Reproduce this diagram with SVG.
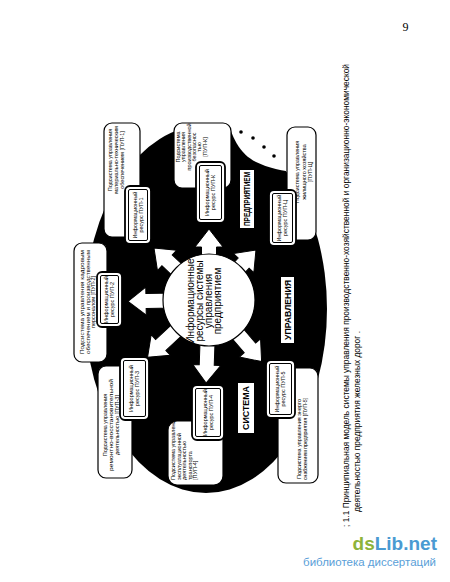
<svg xmlns="http://www.w3.org/2000/svg" width="450" height="582" viewBox="0 0 450 582">
<style>
.ob{fill:#fff;stroke:#000;stroke-width:1.2}
.ib{fill:#fff;stroke:#000;stroke-width:1.8}
.ii{fill:none;stroke:#000;stroke-width:1}
.t{font-family:"Liberation Sans",Arial,sans-serif;font-size:5.5px;fill:#000}
.lbl{font-family:"Liberation Sans",Arial,sans-serif;font-size:8.5px;font-weight:bold;fill:#000}
.arr{fill:#fff;stroke:#000;stroke-width:1}
.cap{font-family:"Liberation Sans",Arial,sans-serif;font-size:8.5px;fill:#000}
</style>
<rect width="450" height="582" fill="#fff"/>
<text x="405.5" y="31" font-family="Liberation Serif, serif" font-size="12" text-anchor="middle">9</text>

<g id="background">
<ellipse cx="206" cy="309" rx="121" ry="184" fill="#000"/>
<path d="M226 112 C231 138,240 154,256 162 C268 168,282 171,300 173 L340 173 L340 112 Z" fill="#fff"/>
<circle cx="241" cy="132" r="1.8" fill="#000"/>
<circle cx="253" cy="138" r="1.8" fill="#000"/>
<circle cx="264" cy="147" r="1.8" fill="#000"/>
<circle cx="274" cy="156" r="1.8" fill="#000"/>
</g>

<g id="connectors" transform="translate(209,300)">
<path class="arr" transform="rotate(-90)" d="M35 -7.5 H53 V-14 L71 0 L53 14 V7.5 H35 Z"/>
<path class="arr" transform="rotate(-136.6)" d="M35 -7.5 H57.7 V-14 L75.7 0 L57.7 14 V7.5 H35 Z"/>
<path class="arr" transform="rotate(179)" d="M35 -7.5 H63 V-14 L81 0 L63 14 V7.5 H35 Z"/>
<path class="arr" transform="rotate(137)" d="M35 -7.5 H66 V-14 L84 0 L66 14 V7.5 H35 Z"/>
<path class="arr" transform="rotate(92)" d="M35 -7.5 H65 V-14 L83 0 L65 14 V7.5 H35 Z"/>
<path class="arr" transform="rotate(49.5)" d="M35 -7.5 H63 V-14 L81 0 L63 14 V7.5 H35 Z"/>
<path class="arr" transform="rotate(-46.8)" d="M35 -7.5 H50.6 V-14 L68.6 0 L50.6 14 V7.5 H35 Z"/>
</g>

<g id="center">
<circle cx="209" cy="300" r="46" fill="#fff" stroke="#000" stroke-width="1.2"/>
<g transform="translate(193.5,301) rotate(-90)" font-family="Liberation Sans, Arial, sans-serif" font-size="10" text-anchor="middle">
<text x="0" y="0">Информационные</text>
<text x="0" y="9">ресурсы системы</text>
<text x="0" y="18">управления</text>
<text x="0" y="27">предприятием</text>
</g>
</g>

<g id="label-predpr">
<rect x="240" y="170" width="14" height="58" fill="#fff"/>
<text class="lbl" transform="translate(250.2,199) rotate(-90)" text-anchor="middle" textLength="54" lengthAdjust="spacingAndGlyphs">ПРЕДПРИЯТИЕМ</text>
</g>
<g id="label-upr">
<rect x="281" y="277" width="13" height="66" fill="#fff"/>
<text class="lbl" transform="translate(290.5,310) rotate(-90)" text-anchor="middle" textLength="60" lengthAdjust="spacingAndGlyphs">УПРАВЛЕНИЯ</text>
</g>
<g id="label-sist">
<rect x="238" y="383" width="16" height="50" fill="#fff"/>
<text class="lbl" transform="translate(249,408) rotate(-90)" text-anchor="middle" textLength="44" lengthAdjust="spacingAndGlyphs">СИСТЕМА</text>
</g>

<g id="n-pup1">
<rect class="ob" x="104" y="123" width="36" height="114" rx="8"/>
<g class="t" transform="translate(112,160) rotate(-90)" text-anchor="middle">
<text x="0" y="0">Подсистема управления</text>
<text x="0" y="6">материально-техническим</text>
<text x="0" y="12">обеспечением [ПУП-1]</text>
</g>
</g>
<g id="n-pupk">
<rect class="ob" x="174" y="123" width="57" height="65" rx="8"/>
<g class="t" transform="translate(180,147) rotate(-90)" text-anchor="middle" font-size="5.2">
<text x="0" y="0">Подсистема</text>
<text x="0" y="5.3">управления</text>
<text x="0" y="10.6">производственной</text>
<text x="0" y="15.9">безопаснос</text>
<text x="0" y="21.2">тью</text>
<text x="0" y="27">[ПУП-К]</text>
</g>
</g>
<g id="n-pupc">
<rect class="ob" x="287" y="127" width="29" height="113" rx="8"/>
<g class="t" transform="translate(299,172) rotate(-90)" text-anchor="middle">
<text x="0" y="0">Подсистема управления</text>
<text x="0" y="6.5">жилищного хозяйства</text>
<text x="0" y="13">[ПУП-Ц]</text>
</g>
</g>
<g id="n-pup2">
<rect class="ob" x="74" y="243" width="33" height="119" rx="8"/>
<g class="t" transform="translate(84,302) rotate(-90)" text-anchor="middle" font-size="6">
<text x="0" y="0" textLength="104" lengthAdjust="spacingAndGlyphs">Подсистема управления кадровым</text>
<text x="0" y="5.5" textLength="104" lengthAdjust="spacingAndGlyphs">обеспечением и производственным</text>
<text x="0" y="11">персоналом [ПУП-2]</text>
</g>
</g>
<g id="n-pup3">
<rect class="ob" x="98" y="366" width="34" height="112" rx="8"/>
<g class="t" transform="translate(107,425) rotate(-90)" text-anchor="middle" font-size="6">
<text x="0" y="0">Подсистема управления</text>
<text x="0" y="6" textLength="92" lengthAdjust="spacingAndGlyphs">ремонтно-восстановительной</text>
<text x="0" y="12">деятельностью [ПУП-3]</text>
</g>
</g>
<g id="n-pup4">
<rect class="ob" x="168" y="421" width="55" height="64" rx="9"/>
<g class="t" transform="translate(175,480) rotate(-90)" font-size="5.3">
<text x="0" y="0">Подсистема управления</text>
<text x="0" y="5.5">эксплуатационной</text>
<text x="0" y="11">деятельностью</text>
<text x="0" y="16.5">транспорта</text>
<text x="0" y="22">[ПУП-4]</text>
</g>
</g>
<g id="n-pup5">
<rect class="ob" x="278" y="368" width="40" height="115" rx="8"/>
<g class="t" transform="translate(301,439) rotate(-90)" text-anchor="middle">
<text x="0" y="0" textLength="80" lengthAdjust="spacingAndGlyphs">Подсистема управления энерго</text>
<text x="0" y="6" textLength="82" lengthAdjust="spacingAndGlyphs">снабжением предприятия [ПУП-5]</text>
</g>
</g>

<g id="r-pup1">
<rect class="ib" x="125" y="186" width="26" height="58" rx="5"/>
<rect class="ii" x="128.5" y="189.5" width="19" height="51" rx="1.5"/>
<g class="t" transform="translate(136.8,215) rotate(-90)" text-anchor="middle" font-size="5.2">
<text x="0" y="0">Информационный</text><text x="0" y="6">ресурс ПУП-1</text></g>
</g>
<g id="r-pupk">
<rect class="ib" x="196" y="162" width="29" height="61" rx="5"/>
<rect class="ii" x="199.5" y="165.5" width="22" height="54" rx="1.5"/>
<g class="t" transform="translate(209.3,192.5) rotate(-90)" text-anchor="middle" font-size="5.2">
<text x="0" y="0">Информационный</text><text x="0" y="6">ресурс ПУП-К</text></g>
</g>
<g id="r-pupc">
<rect class="ib" x="269" y="190" width="27" height="56" rx="5"/>
<rect class="ii" x="272.5" y="193.5" width="20" height="49" rx="1.5"/>
<g class="t" transform="translate(281.3,218) rotate(-90)" text-anchor="middle" font-size="5.2">
<text x="0" y="0">Информационный</text><text x="0" y="6">ресурс ПУП-Ц</text></g>
</g>
<g id="r-pup2">
<rect class="ib" x="97" y="272" width="25" height="55" rx="5"/>
<rect class="ii" x="100.5" y="275.5" width="18" height="48" rx="1.5"/>
<g class="t" transform="translate(108.3,299.5) rotate(-90)" text-anchor="middle" font-size="5.2">
<text x="0" y="0">Информационный</text><text x="0" y="6">ресурс ПУП-2</text></g>
</g>
<g id="r-pup3">
<rect class="ib" x="120" y="357" width="29" height="63" rx="5"/>
<rect class="ii" x="123.5" y="360.5" width="22" height="56" rx="1.5"/>
<g class="t" transform="translate(133.3,388.5) rotate(-90)" text-anchor="middle" font-size="5.2">
<text x="0" y="0">Информационный</text><text x="0" y="6">ресурс ПУП-3</text></g>
</g>
<g id="r-pup4">
<rect class="ib" x="192" y="385" width="32" height="55" rx="5"/>
<rect class="ii" x="195.5" y="388.5" width="25" height="48" rx="1.5"/>
<g class="t" transform="translate(206.8,412.5) rotate(-90)" text-anchor="middle" font-size="5.2">
<text x="0" y="0">Информационный</text><text x="0" y="6">ресурс ПУП-4</text></g>
</g>
<g id="r-pup5">
<rect class="ib" x="266" y="360" width="29" height="58" rx="5"/>
<rect class="ii" x="269.5" y="363.5" width="22" height="51" rx="1.5"/>
<g class="t" transform="translate(279.3,389) rotate(-90)" text-anchor="middle" font-size="5.2">
<text x="0" y="0">Информационный</text><text x="0" y="6">ресурс ПУП-5</text></g>
</g>

<g id="caption">
<text class="cap" transform="translate(348.5,527) rotate(-90)" textLength="463" lengthAdjust="spacingAndGlyphs">; 1.1 Принципиальная модель системы управления производственно-хозяйственной и организационно-экономической</text>
<text class="cap" transform="translate(359.5,512) rotate(-90)" textLength="181" lengthAdjust="spacingAndGlyphs">деятельностью предприятия железных дорог .</text>
</g>

<g id="watermark">
<text x="437" y="550" text-anchor="end" font-family="Liberation Sans, sans-serif" font-size="19" font-weight="bold"><tspan fill="#8db33a">ds</tspan><tspan fill="#4a9ad2">Lib.net</tspan></text>
<text x="436" y="566" text-anchor="end" font-family="Liberation Sans, sans-serif" font-size="11.5" fill="#5aa0d8">библиотека диссертаций</text>
</g>
</svg>
